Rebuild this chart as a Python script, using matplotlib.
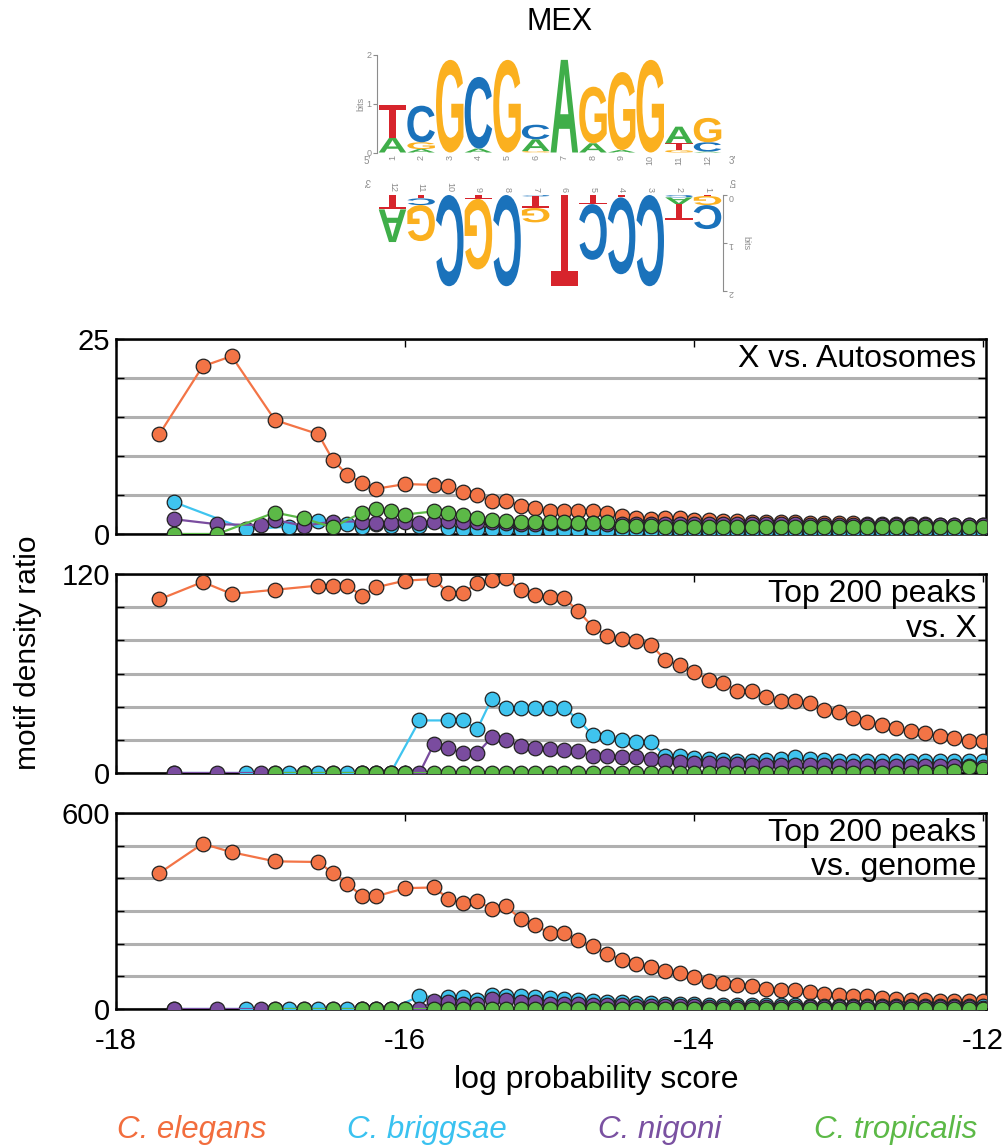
import numpy as np
import matplotlib
matplotlib.use('Agg')
import matplotlib.pyplot as plt
from matplotlib.textpath import TextPath
from matplotlib.font_manager import FontProperties
from matplotlib.patches import PathPatch
from matplotlib.transforms import Affine2D

plt.rcParams['font.family'] = ['Liberation Sans', 'DejaVu Sans']

# ---- motif logo (MEX), bits per letter, smallest first in each column ----
logo_letters = ['AT', 'AGC', 'G', 'AC', 'G', 'GAC', 'A', 'AG', 'AG', 'G', 'GTA', 'ACG']
logo_bits = [[0.30, 0.68], [0.07, 0.14, 0.75], [1.90], [0.08, 1.47], [1.90],
             [0.03, 0.24, 0.30], [1.90], [0.19, 1.16], [0.05, 1.60], [1.90],
             [0.05, 0.14, 0.34], [0.02, 0.19, 0.50]]
logo_colors = {'A': '#3fae49', 'C': '#1a72bb', 'G': '#fbb01f', 'T': '#d7242c'}
complement = {'A': 'T', 'T': 'A', 'C': 'G', 'G': 'C'}

# ---- score bins (log probability score) ----
tail = list(np.round(np.arange(-15.7, -11.95, 0.1), 1))
elegans_x = [-17.7, -17.4, -17.2, -16.9, -16.6, -16.5, -16.4, -16.3, -16.2, -16.0, -15.8] + tail
briggsae_x = [-17.6, -17.1, -16.8, -16.6, -16.4, -16.3, -16.2, -16.1, -15.9] + tail
nigoni_x = [-17.6, -17.3, -17.0, -16.9, -16.7, -16.5, -16.3, -16.2, -16.1, -16.0, -15.9, -15.8] + tail
tropicalis_x = [-17.6, -17.3, -16.9, -16.7, -16.5, -16.3, -16.2, -16.1, -16.0, -15.8] + tail
nan = np.nan

# ---- panel 1: X vs. Autosomes ----
xa_elegans = [12.8, 21.5, 22.8, 14.6, 12.8, 9.5, 7.6, 6.6, 5.8, 6.4, 6.3,
              6.1, 5.4, 5.0, 4.2, 4.25, 3.65, 3.3, 3.0,
              3.0, 2.9, 2.9, 2.7, 2.3, 2.0, 1.9, 2.0, 2.0, 1.8,
              1.8, 1.7, 1.7, 1.6, 1.55, 1.55, 1.5, 1.45, 1.4, 1.4,
              1.35, 1.3, 1.3, 1.3, 1.25, 1.25, 1.2, 1.2, 1.2, 1.2]
xa_briggsae = [4.1, 0.6, 0.95, 1.7, 1.25, 0.95, 1.25, 1.0, 1.0,
               0.8, 0.7, 0.6, 0.6, 0.6, 0.55, 0.5, 0.5,
               0.5, 0.5, 0.45, 0.4, 0.4, 0.4, 0.35, 0.4, 0.4, 0.4,
               0.4, 0.4, 0.4, 0.4, 0.4, 0.4, 0.4, 0.4, 0.4, 0.4,
               0.4, 0.4, 0.4, 0.4, 0.4, 0.4, 0.4, 0.4, 0.4, 0.4]
xa_nigoni = [1.9, 1.25, 1.15, 1.8, 1.05, 1.6, 1.6, 1.45, 1.35, 1.6, 1.45, 1.6,
             1.7, 1.6, 1.5, 1.5, 1.4, 1.3, 1.3, 1.4,
             1.4, 1.4, 1.35, 1.3, 1.3, 1.3, 1.3, 1.3, 1.3, 1.3,
             1.3, 1.3, 1.3, 1.25, 1.25, 1.25, 1.25, 1.2, 1.2, 1.2,
             1.2, 1.2, 1.2, 1.2, 1.2, 1.2, 1.2, 1.2, 1.2, 1.2]
xa_tropicalis = [0.0, 0.0, 2.75, 2.0, 0.85, 2.75, 3.2, 2.9, 2.5, 2.9,
                 2.75, 2.45, 2.0, 1.8, 1.7, 1.6, 1.5, 1.5,
                 1.5, 1.4, 1.4, 1.5, 1.05, 1.0, 1.0, 0.9, 0.9, 0.9,
                 0.9, 0.9, 0.9, 0.9, 0.9, 0.9, 0.9, 0.9, 0.9, 0.9,
                 0.85, 0.85, 0.85, 0.85, 0.85, 0.85, 0.85, 0.85, 0.85, 0.85]

# ---- panel 2: Top 200 peaks vs. X ----
px_elegans = [104.7, 115.2, 108.0, 110.5, 113.0, 113.0, 113.0, 107.0, 112.0, 116.0, 117.0,
              108.5, 108.5, 114.6, 116.6, 117.6, 110.5, 107.5, 106.0,
              105.5, 97.5, 88.0, 82.8, 81.0, 79.8, 77.4, 68.3, 64.9, 60.9,
              56.3, 54.3, 49.6, 49.6, 45.6, 43.6, 43.6, 42.2, 38.2, 36.8,
              33.2, 30.8, 29.1, 27.1, 25.5, 24.1, 22.1, 21.1, 19.1, 19.1]
px_briggsae = [0, 0, 0, 0, 0, 0, 0, 0, 31.7,
               31.7, 31.7, 26.5, 44.8, 39.2, 39.2, 39.2, 39.2,
               39.2, 32.1, 22.7, 21.5, 20.0, 18.7, 18.7, 10.4, 10.0, 9.0,
               8.4, 8.0, 7.0, 7.0, 8.0, 8.4, 9.4, 8.4, 8.0, 7.0,
               7.0, 7.0, 7.0, 7.0, 7.0, 7.0, 7.0, 7.0, 7.0, 7.0]
px_nigoni = [0, 0, 0, 0, 0, 0, 0, 0, 0, 0, 0, 17.5,
             15.0, 12.0, 12.0, 21.5, 20.0, 16.0, 15.0, 14.5,
             14.0, 13.0, 10.4, 10.0, 9.4, 9.4, 8.4, 7.0, 6.5, 6.0,
             6.0, 5.5, 5.5, 5.0, 5.0, 5.0, 5.0, 5.0, 5.0, 4.5,
             4.5, 4.5, 4.0, 4.0, 4.0, 4.0, 4.0, 4.0, 4.0, 3.5]
px_tropicalis = [nan, nan, 0, 0, 0, 0, 0, 0, 0, 0,
                 0.3, 0.3, 0.3, 0.3, 0.3, 0.3, 0.3, 0.3,
                 0.3, 0.3, 0.3, 0.3, 0.3, 0.3, 0.3, 0.3, 0.3, 0.3,
                 0.3, 0.3, 0.3, 0.3, 0.3, 0.3, 0.3, 0.3, 0.3, 0.3,
                 0.3, 0.3, 0.3, 0.3, 0.3, 0.5, 0.5, 1.0, 3.5, 2.5]

# ---- panel 3: Top 200 peaks vs. genome ----
pg_elegans = [416, 506, 480, 452, 450, 416, 383, 347, 345, 370, 372,
              338, 324, 331, 306, 314, 276, 256, 233,
              234, 210, 192, 169, 151, 139, 130, 117, 110, 97,
              87, 80, 74, 71, 61, 59, 57, 51, 46, 44,
              41, 39, 34, 31, 28, 28, 26, 25, 23, 23]
pg_briggsae = [0, 0, 0, 0, 0, 0, 0, 0, 39,
               36, 36, 28, 44, 39, 39, 36, 33,
               30, 28, 25, 22, 20, 18, 17, 16, 15, 14,
               13, 12, 12, 11, 11, 11, 11, 10, 10, 10,
               10, 10, 9, 9, 9, 9, 9, 9, 8, 8]
pg_nigoni = [0, 0, 0, 0, 0, 0, 0, 0, 0, 0, 0, 25,
             22, 16, 16, 31, 28, 22, 22, 16,
             15, 14, 13, 12, 11, 10, 9, 9, 8, 8,
             7, 7, 7, 6, 6, 6, 6, 6, 6, 5,
             5, 5, 5, 5, 5, 5, 5, 5, 5, 4]
pg_tropicalis = [nan, nan, 0, 0, 0, 0, 0, 0, 0, 0,
                 1, 1, 1, 1, 1, 1, 1, 1,
                 1, 1, 1, 1, 1, 1, 1, 1, 1, 1,
                 1, 1, 1, 1, 1, 1, 1, 1, 1, 1,
                 1, 1, 1, 1, 1, 1, 1, 1, 1, 1]

species = ['C. elegans', 'C. briggsae', 'C. nigoni', 'C. tropicalis']
species_x = [elegans_x, briggsae_x, nigoni_x, tropicalis_x]
colors = ['#f37446', '#3fc4ef', '#7a4c9f', '#5cb947']
text_colors = ['#f26d3d', '#3ac2f0', '#7a51a1', '#5cb947']

panel_data = [[xa_elegans, xa_briggsae, xa_nigoni, xa_tropicalis],
              [px_elegans, px_briggsae, px_nigoni, px_tropicalis],
              [pg_elegans, pg_briggsae, pg_nigoni, pg_tropicalis]]
panel_titles = ['X vs. Autosomes', 'Top 200 peaks\nvs. X', 'Top 200 peaks\nvs. genome']
panel_ymax = [25, 120, 600]

W, H = 1005, 1148
fig = plt.figure(figsize=(W / 100, H / 100), dpi=100)


def fbox(x0, y0, x1, y1):
    # pixel box (top-left origin) -> figure fraction rect
    return [x0 / W, 1 - y1 / H, (x1 - x0) / W, (y1 - y0) / H]


logo_font = FontProperties(family='Liberation Sans', weight='bold')


def draw_letter(ax, ch, x0, y0, w, h, color, flip=False):
    if h <= 0.005:
        return
    tp = TextPath((0, 0), ch, size=1, prop=logo_font)
    bb = tp.get_extents()
    tr = Affine2D().translate(-bb.x0, -bb.y0).scale(w / bb.width, h / bb.height)
    if flip:
        tr = tr.scale(-1, -1).translate(x0 + w, y0 + h)
    else:
        tr = tr.translate(x0, y0)
    ax.add_patch(PathPatch(tr.transform_path(tp), fc=color, ec='none', lw=0))


gray = '#8c8c8c'
ncol = len(logo_letters)

# top logo
lax = fig.add_axes(fbox(377, 55, 723, 152.5))
lax.set_xlim(0.46, 12.54)
lax.set_ylim(0, 2)
for i in range(ncol):
    cum = 0
    for ch, b in zip(logo_letters[i], logo_bits[i]):
        draw_letter(lax, ch, i + 1 - 0.48, cum, 0.96, b, logo_colors[ch])
        cum += b
for s in ['top', 'right', 'bottom']:
    lax.spines[s].set_visible(False)
lax.spines['left'].set_color(gray)
lax.spines['left'].set_linewidth(0.8)
lax.set_yticks([0, 1, 2])
lax.tick_params(axis='y', colors=gray, labelsize=6.5, length=3, width=0.8, pad=1)
lax.set_xticks(range(1, ncol + 1))
lax.set_xticklabels([str(i) for i in range(1, ncol + 1)], rotation=90)
lax.tick_params(axis='x', colors=gray, labelsize=6.5, length=0, pad=2)
lax.set_ylabel('bits', color=gray, fontsize=6.5, labelpad=1)
lax.text(0.1, -0.17, "5\u2032", color=gray, fontsize=7, ha='center', va='center', clip_on=False)
lax.text(12.85, -0.17, "3\u2032", color=gray, fontsize=7, ha='center', va='center', clip_on=False)

# reverse complement logo, drawn rotated by 180 degrees
rax = fig.add_axes(fbox(377, 195, 723, 291))
rax.set_xlim(0.46, 12.54)
rax.set_ylim(-2, 0)
for i in range(ncol):
    cum = 0
    for ch, b in zip(logo_letters[i], logo_bits[i]):
        rc = complement[ch]
        draw_letter(rax, rc, i + 1 - 0.48, -(cum + b), 0.96, b, logo_colors[rc], flip=True)
        cum += b
for s in ['top', 'left', 'bottom']:
    rax.spines[s].set_visible(False)
rax.spines['right'].set_color(gray)
rax.spines['right'].set_linewidth(0.8)
rax.yaxis.tick_right()
rax.set_yticks([0, -1, -2])
rax.set_yticklabels(['0', '1', '2'], rotation=180)
rax.tick_params(axis='y', colors=gray, labelsize=6.5, length=3, width=0.8, pad=1)
rax.xaxis.tick_top()
rax.set_xticks(range(1, ncol + 1))
rax.set_xticklabels([str(ncol + 1 - i) for i in range(1, ncol + 1)], rotation=-90)
rax.tick_params(axis='x', colors=gray, labelsize=6.5, length=0, pad=2)
rax.text(13.35, -1.0, 'bits', color=gray, fontsize=6.5, rotation=-90,
         ha='center', va='center', clip_on=False)
rax.text(0.1, 0.3, "3\u2032", color=gray, fontsize=7, rotation=180,
         ha='center', va='center', clip_on=False)
rax.text(12.85, 0.3, "5\u2032", color=gray, fontsize=7, rotation=180,
         ha='center', va='center', clip_on=False)

fig.text(560 / W, 1 - 22 / H, 'MEX', fontsize=22, ha='center', va='center')

# ---- density ratio panels ----
boxes = [(116, 339, 986, 534), (116, 574, 986, 773), (116, 813, 986, 1009)]
for p in range(3):
    ax = fig.add_axes(fbox(*boxes[p]))
    ymax = panel_ymax[p]
    for k in range(4):
        xs = np.array(species_x[k])
        ys = np.array(panel_data[p][k], dtype=float)
        ok = ~np.isnan(ys)
        ax.plot(xs[ok], ys[ok], '-o', color=colors[k], lw=1.6,
                ms=10.5, mfc=colors[k], mec='#222222', mew=0.9, zorder=3 + k)
    ax.set_xlim(-18, -11.98)
    ax.set_ylim(0, ymax)
    step = ymax / 6 if ymax != 25 else 5
    yt = np.arange(0, ymax + 0.01, step)
    ax.set_yticks(yt)
    ax.set_yticklabels(['0'] + [''] * (len(yt) - 2) + [str(ymax)])
    ax.set_xticks([-18, -16, -14, -12])
    if p == 2:
        ax.set_xticklabels(['-18', '-16', '-14', '-12'])
    else:
        ax.set_xticklabels([])
    ax.grid(axis='y', color='#b0b0b0', lw=2.2)
    ax.set_axisbelow(True)
    ax.tick_params(direction='in', top=True, right=True, length=6, width=1,
                   labelsize=21, pad=4)
    ax.tick_params(axis='x', pad=13)
    for s in ax.spines.values():
        s.set_linewidth(1.8)
    ax.text(0.989, 0.975, panel_titles[p], transform=ax.transAxes, ha='right',
            va='top', fontsize=23, linespacing=1.2, zorder=10)

fig.text(28 / W, 1 - 653 / H, 'motif density ratio', rotation=90, fontsize=21.5,
         ha='center', va='center')
fig.text(596 / W, 1 - 1080 / H, 'log probability score', fontsize=23,
         ha='center', va='center')
legend_x = [192, 427, 660, 896]
for k in range(4):
    fig.text(legend_x[k] / W, 1 - 1130 / H, species[k], fontsize=22.5, style='italic',
             color=text_colors[k], ha='center', va='center')

fig.savefig('out.png', dpi=100)
